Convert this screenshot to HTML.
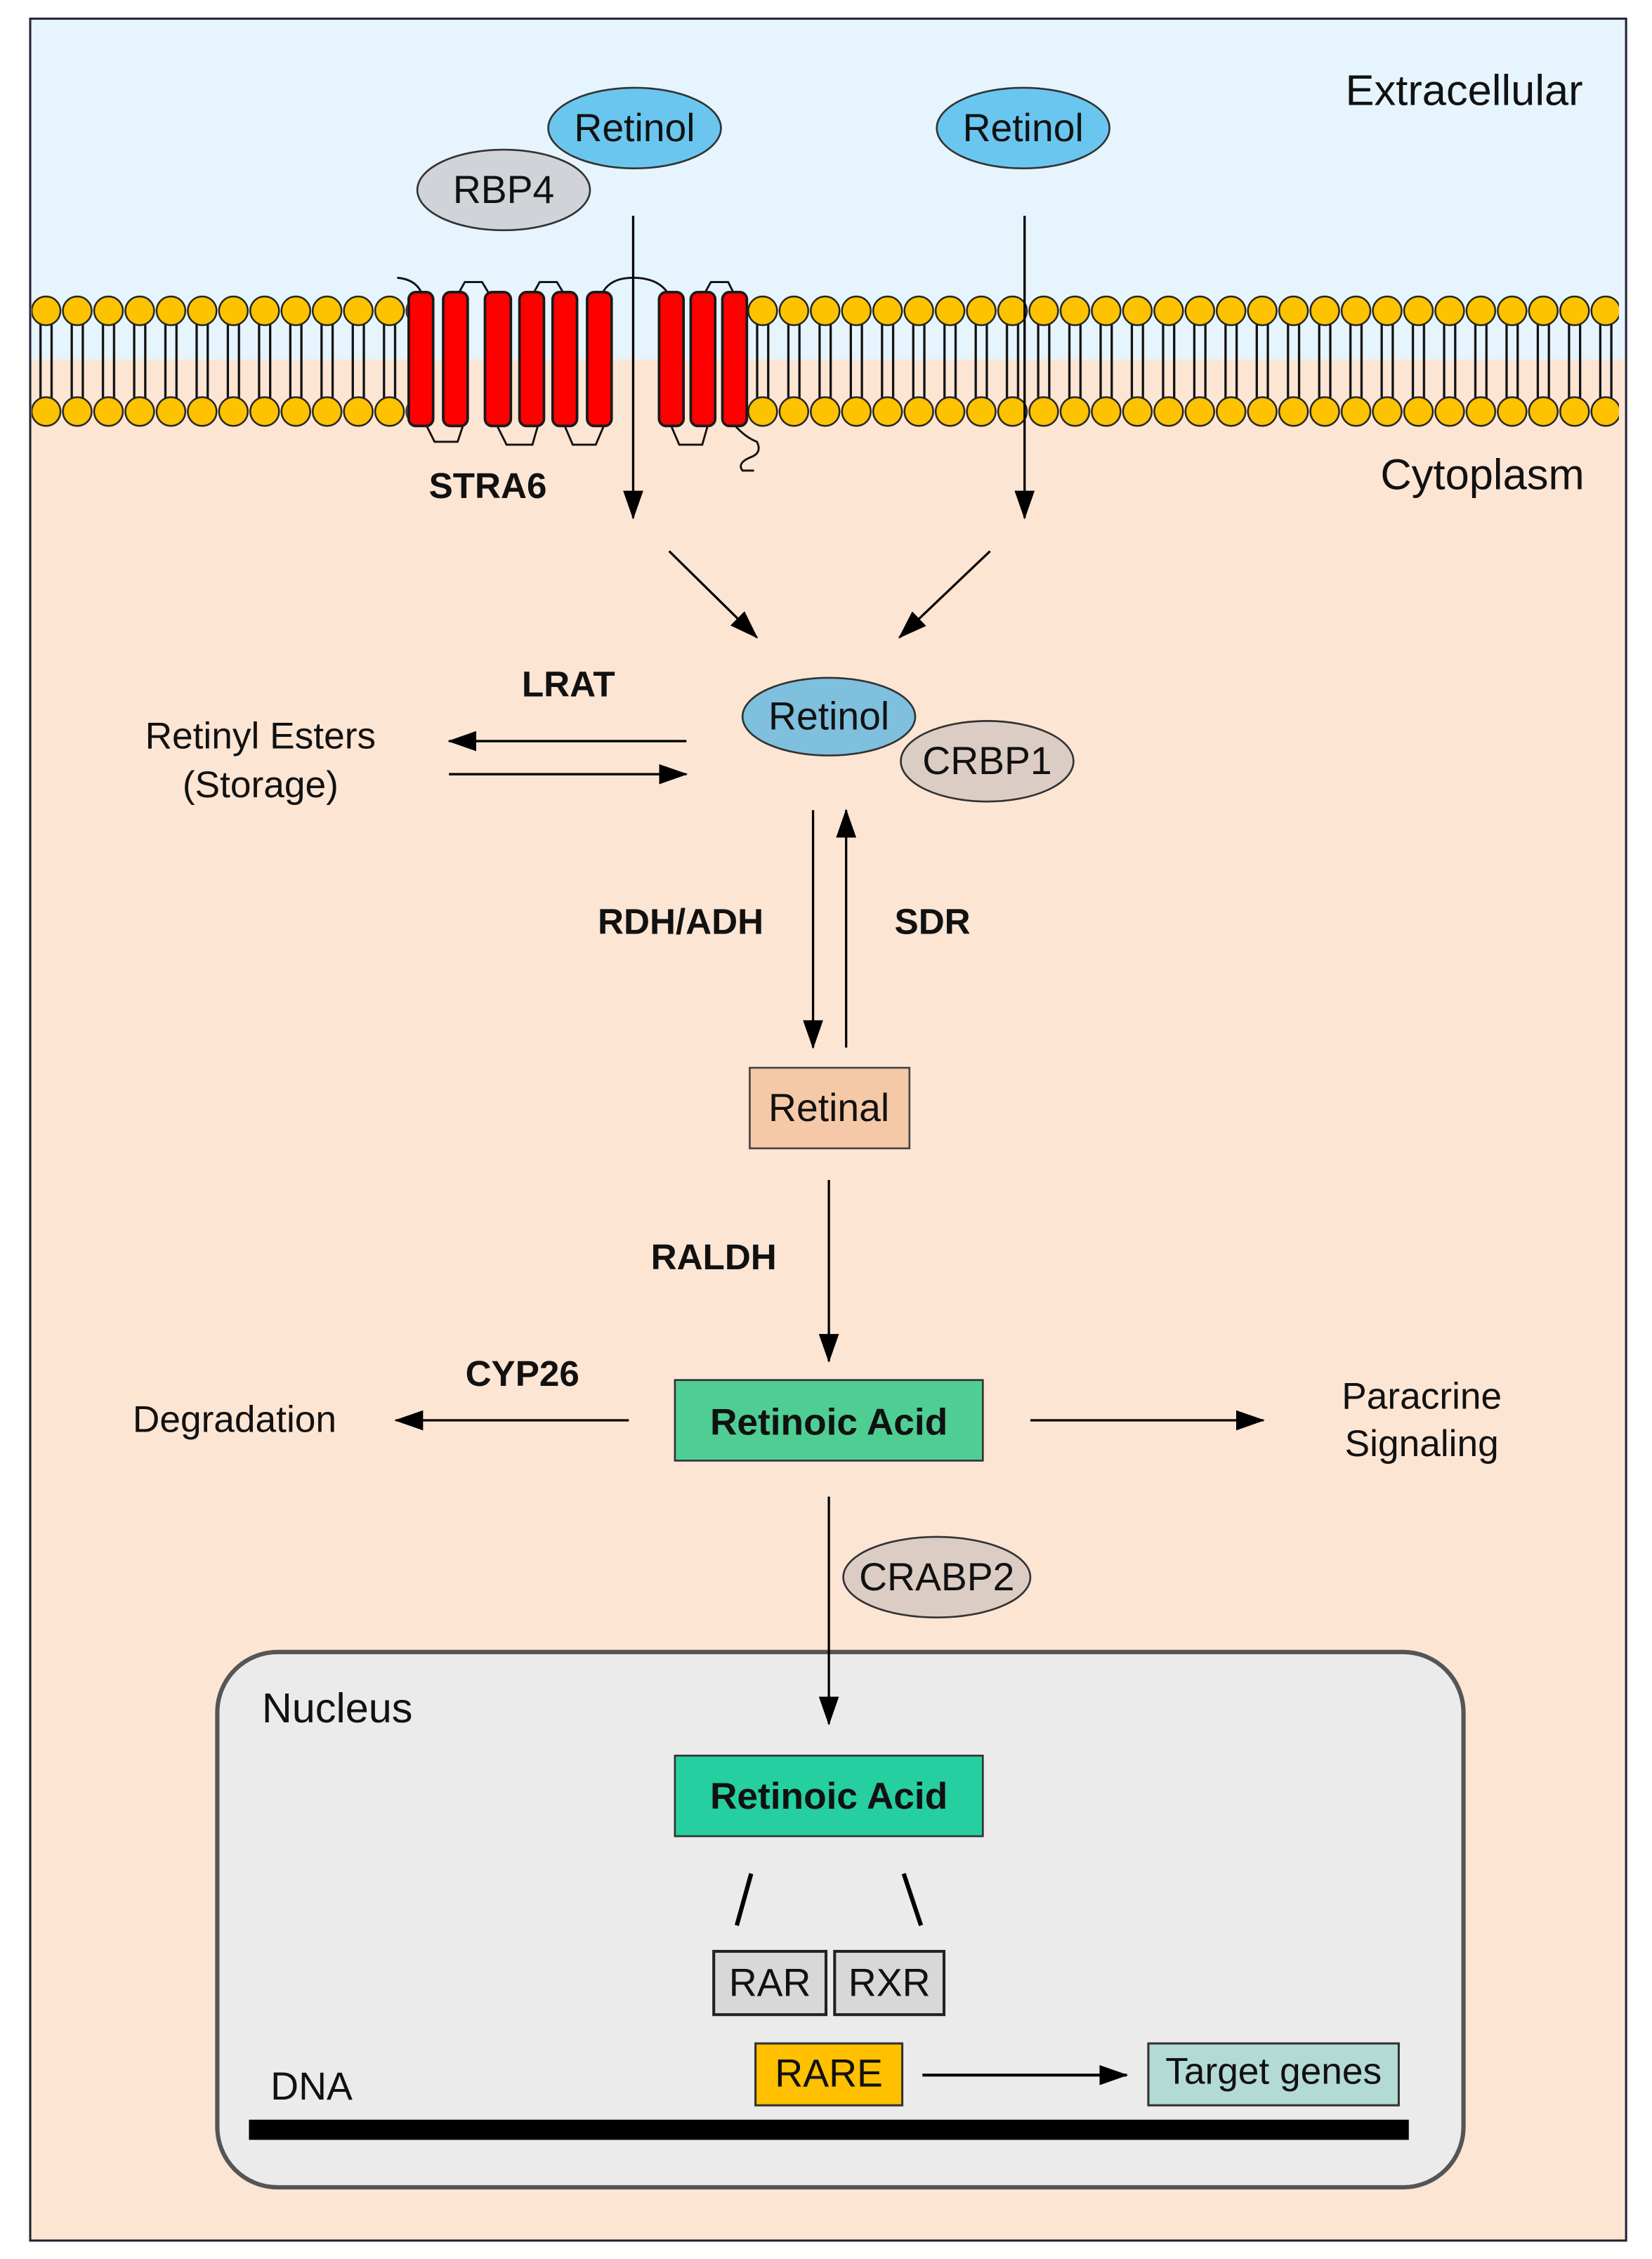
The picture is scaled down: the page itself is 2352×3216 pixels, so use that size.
<!DOCTYPE html>
<html><head><meta charset="utf-8"><style>
html,body{margin:0;padding:0;background:#fff}
svg{display:block}
text{font-family:"Liberation Sans",Arial,sans-serif;fill:#111}
.b{font-weight:bold}
</style></head><body>
<svg width="2352" height="3216" viewBox="0 0 1148 1569.8" preserveAspectRatio="none" xmlns="http://www.w3.org/2000/svg">
<defs>
<marker id="ah2" markerWidth="20" markerHeight="14" refX="19" refY="7" orient="auto" markerUnits="userSpaceOnUse">
<path d="M0,0 L20,7 L0,14 Z" fill="#000"/>
</marker>
<pattern id="lipL" patternUnits="userSpaceOnUse" x="21.15" y="204" width="21.7" height="96">
<line x1="7" y1="20" x2="7" y2="78" stroke="#111" stroke-width="1.6"/>
<line x1="14.7" y1="20" x2="14.7" y2="78" stroke="#111" stroke-width="1.6"/>
<ellipse cx="10.85" cy="12" rx="10" ry="10" fill="#fdc300" stroke="#222" stroke-width="1.2"/>
<ellipse cx="10.85" cy="82" rx="10" ry="10" fill="#fdc300" stroke="#222" stroke-width="1.2"/>
</pattern>
<pattern id="lipR" patternUnits="userSpaceOnUse" x="519.15" y="204" width="21.7" height="96">
<line x1="7" y1="20" x2="7" y2="78" stroke="#111" stroke-width="1.6"/>
<line x1="14.7" y1="20" x2="14.7" y2="78" stroke="#111" stroke-width="1.6"/>
<ellipse cx="10.85" cy="12" rx="10" ry="10" fill="#fdc300" stroke="#222" stroke-width="1.2"/>
<ellipse cx="10.85" cy="82" rx="10" ry="10" fill="#fdc300" stroke="#222" stroke-width="1.2"/>
</pattern>
</defs>
<rect width="1148" height="1570" fill="#fff"/>
<rect x="21" y="13" width="1109" height="1544" fill="#fde5d4" stroke="#223" stroke-width="1.5"/>
<rect x="21.8" y="13.8" width="1107.4" height="236" fill="#e6f4fd"/>

<rect x="22" y="204" width="261" height="96" fill="url(#lipL)"/>
<rect x="519" y="204" width="606" height="96" fill="url(#lipR)"/>

<g fill="none" stroke="#111" stroke-width="1.4">
<path d="M276,193 Q290,194 294,206"/>
<path d="M318,205 L323,196 L335,196 L341,206"/>
<path d="M370,205 L375,196 L387,196 L393,206"/>
<path d="M418,205 Q423,193 440,193 Q458,193 465,205"/>
<path d="M489,205 L494,196 L506,196 L511,206"/>
<path d="M296,295 L302,307 L318,307 L322,295"/>
<path d="M345,295 L352,309 L370,309 L374,295"/>
<path d="M392,295 L398,309 L414,309 L420,295"/>
<path d="M466,295 L472,309 L488,309 L492,295"/>
<path d="M510,295 Q518,304 526,307 Q530,315 521,318 Q512,322 516,327 L524,327"/>
</g>
<g fill="#fe0000" stroke="#1a1a1a" stroke-width="1.8">
<rect x="284" y="203" width="17" height="93" rx="5"/>
<rect x="308" y="203" width="17" height="93" rx="5"/>
<rect x="337" y="203" width="18" height="93" rx="5"/>
<rect x="361" y="203" width="17" height="93" rx="5"/>
<rect x="384" y="203" width="17" height="93" rx="5"/>
<rect x="408" y="203" width="17" height="93" rx="5"/>
<rect x="458" y="203" width="17" height="93" rx="5"/>
<rect x="480" y="203" width="17" height="93" rx="5"/>
<rect x="502" y="203" width="17" height="93" rx="5"/>
</g>

<ellipse cx="350" cy="132" rx="60" ry="28" fill="#d0d4d8" stroke="#333" stroke-width="1.3"/>
<text x="350" y="141" font-size="27" text-anchor="middle">RBP4</text>
<ellipse cx="441" cy="89" rx="60" ry="28" fill="#6ac6ef" stroke="#333" stroke-width="1.3"/>
<text x="441" y="98" font-size="27" text-anchor="middle">Retinol</text>
<ellipse cx="711" cy="89" rx="60" ry="28" fill="#6ac6ef" stroke="#333" stroke-width="1.3"/>
<text x="711" y="98" font-size="27" text-anchor="middle">Retinol</text>
<text x="1100" y="73" font-size="30" text-anchor="end">Extracellular</text>
<text x="1101" y="340" font-size="30" text-anchor="end">Cytoplasm</text>
<text x="339" y="346" font-size="25" class="b" text-anchor="middle">STRA6</text>

<g stroke="#000" stroke-width="1.6" fill="none">
<line x1="440" y1="150" x2="440" y2="360" marker-end="url(#ah2)"/>
<line x1="712" y1="150" x2="712" y2="360" marker-end="url(#ah2)"/>
<line x1="465" y1="383" x2="526" y2="443" marker-end="url(#ah2)"/>
<line x1="688" y1="383" x2="625" y2="443" marker-end="url(#ah2)"/>
<line x1="477" y1="515" x2="312" y2="515" marker-end="url(#ah2)"/>
<line x1="312" y1="538" x2="477" y2="538" marker-end="url(#ah2)"/>
<line x1="565" y1="563" x2="565" y2="728" marker-end="url(#ah2)"/>
<line x1="588" y1="728" x2="588" y2="563" marker-end="url(#ah2)"/>
<line x1="576" y1="820" x2="576" y2="946" marker-end="url(#ah2)"/>
<line x1="437" y1="987" x2="275" y2="987" marker-end="url(#ah2)"/>
<line x1="716" y1="987" x2="878" y2="987" marker-end="url(#ah2)"/>
</g>

<ellipse cx="576" cy="498" rx="60" ry="27" fill="#7ec0de" stroke="#333" stroke-width="1.3"/>
<text x="576" y="507" font-size="27" text-anchor="middle">Retinol</text>
<ellipse cx="686" cy="529" rx="60" ry="28" fill="#dccdc4" stroke="#333" stroke-width="1.3"/>
<text x="686" y="538" font-size="27" text-anchor="middle">CRBP1</text>
<text x="395" y="484" font-size="25" class="b" text-anchor="middle">LRAT</text>
<text x="181" y="520" font-size="26" text-anchor="middle">Retinyl Esters</text>
<text x="181" y="554" font-size="26" text-anchor="middle">(Storage)</text>
<text x="473" y="649" font-size="25" class="b" text-anchor="middle">RDH/ADH</text>
<text x="648" y="649" font-size="25" class="b" text-anchor="middle">SDR</text>

<rect x="521" y="742" width="111" height="56" fill="#f5c9a8" stroke="#444" stroke-width="1.3"/>
<text x="576" y="779" font-size="27" text-anchor="middle">Retinal</text>
<text x="496" y="882" font-size="25" class="b" text-anchor="middle">RALDH</text>

<rect x="469" y="959" width="214" height="56" fill="#4fce93" stroke="#333" stroke-width="1.3"/>
<text x="576" y="997" font-size="26" class="b" text-anchor="middle">Retinoic Acid</text>
<text x="363" y="963" font-size="25" class="b" text-anchor="middle">CYP26</text>
<text x="163" y="995" font-size="26" text-anchor="middle">Degradation</text>
<text x="988" y="979" font-size="26" text-anchor="middle">Paracrine</text>
<text x="988" y="1012" font-size="26" text-anchor="middle">Signaling</text>

<ellipse cx="651" cy="1096" rx="65" ry="28" fill="#dccdc4" stroke="#333" stroke-width="1.3"/>
<text x="651" y="1105" font-size="27" text-anchor="middle">CRABP2</text>

<rect x="151" y="1148" width="866" height="372" rx="42" fill="#ebebeb" stroke="#555" stroke-width="3"/>
<line x1="576" y1="1040" x2="576" y2="1198" stroke="#000" stroke-width="1.6" marker-end="url(#ah2)"/>
<text x="182" y="1197" font-size="29">Nucleus</text>
<rect x="469" y="1220" width="214" height="56" fill="#26cf9f" stroke="#333" stroke-width="1.3"/>
<text x="576" y="1257" font-size="26" class="b" text-anchor="middle">Retinoic Acid</text>
<line x1="522" y1="1302" x2="512" y2="1338" stroke="#000" stroke-width="3"/>
<line x1="628" y1="1302" x2="640" y2="1338" stroke="#000" stroke-width="3"/>
<rect x="496" y="1356" width="78" height="44" fill="#d8d8d8" stroke="#222" stroke-width="2"/>
<text x="535" y="1387" font-size="27" text-anchor="middle">RAR</text>
<rect x="580" y="1356" width="76" height="44" fill="#d8d8d8" stroke="#222" stroke-width="2"/>
<text x="618" y="1387" font-size="27" text-anchor="middle">RXR</text>
<rect x="525" y="1420" width="102" height="43" fill="#ffc000" stroke="#333" stroke-width="1.5"/>
<text x="576" y="1450" font-size="27" text-anchor="middle">RARE</text>
<line x1="641" y1="1442" x2="783" y2="1442" stroke="#000" stroke-width="2" marker-end="url(#ah2)"/>
<rect x="798" y="1420" width="174" height="43" fill="#b4dad6" stroke="#333" stroke-width="1.5"/>
<text x="885" y="1448" font-size="26" text-anchor="middle">Target genes</text>
<text x="188" y="1459" font-size="27">DNA</text>
<rect x="173" y="1473" width="806" height="14" fill="#000"/>
</svg>
</body></html>
